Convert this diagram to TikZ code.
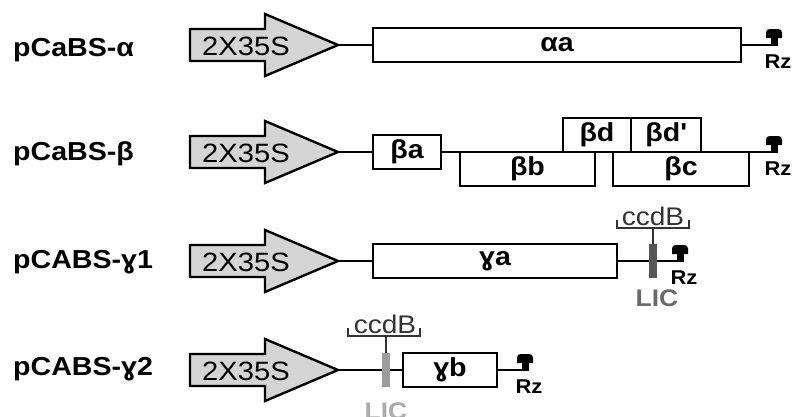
\documentclass[tikz,border=0pt]{standalone}
\usepackage{fontspec}
\setmainfont{Liberation Sans}[FakeStretch=1.1]
\definecolor{promfill}{HTML}{D4D4D4}
\definecolor{licdark}{HTML}{555555}
\definecolor{licdarktxt}{HTML}{6A6A6A}
\definecolor{liclight}{HTML}{9C9C9C}
\definecolor{liclighttxt}{HTML}{ABABAB}
\definecolor{ccdbcol}{HTML}{333333}
\tikzset{
  prom/.style={draw=black, fill=promfill, line width=2.4pt, line join=miter},
  promtext/.style={font=\fontsize{26.5}{26.5}\selectfont, inner sep=0pt},
  gene/.style={draw=black, fill=white, line width=2.4pt, minimum height=34pt, inner sep=0pt,
    font=\bfseries\fontsize{26}{26}\selectfont},
  wire/.style={line width=2pt},
  lab/.style={font=\bfseries\fontsize{26}{26}\selectfont, inner sep=0pt},
  rztext/.style={font=\bfseries\fontsize{20}{20}\selectfont, inner sep=0pt, anchor=base},
  licbar/.style={minimum width=8pt, minimum height=34pt, inner sep=0pt},
  lictext/.style={font=\bfseries\fontsize{24}{24}\selectfont, inner sep=0pt, anchor=base},
  ccdbtext/.style={font=\fontsize{25.5}{25.5}\selectfont, inner sep=0pt, anchor=base, text=ccdbcol},
  brk/.style={draw=ccdbcol, line width=1.5pt},
}
% terminator symbol: #1 = x of stem, #2 = y of line, #3 = name
\newcommand\rzsym[3]{%
  \coordinate (#3) at (#1,#2);
  \fill ({#1-3.5},{#2+1}) rectangle ({#1+3.5},{#2-8});
  \fill ({#1-8},{#2-7}) [rounded corners=3.5pt] -- ({#1-8},{#2-16}) -- ({#1+8},{#2-16}) [sharp corners] -- ({#1+8},{#2-7}) -- cycle;
  \node[rztext] (#3t) at ({#1+4},{#2+23}) {Rz};
}
\begin{document}
\begin{tikzpicture}[x=1pt,y=-1pt]
\useasboundingbox (0,0) rectangle (795,416);

% promoters
\foreach \c/\n in {45/1,152/2,261/3,370/4}{
  \begin{scope}[shift={(0,\c)}]
    \draw[prom] (190,-16) -- (265,-16) -- (265,-31) -- (338,0) -- (265,31) -- (265,16) -- (190,16) -- cycle;
    \node[promtext] (pt\n) at (246,1) {2X35S};
    \coordinate (tip\n) at (338,0);
  \end{scope}
}

% left labels
\node[lab, anchor=base west] (l1) at (13,56) {pCaBS-α};
\node[lab, anchor=base west] (l2) at (13,160) {pCaBS-β};
\node[lab, anchor=base west] (l3) at (13,268) {pCABS-ɣ1};
\node[lab, anchor=base west] (l4) at (13,375) {pCABS-ɣ2};

% ---- row 1
\node[gene, minimum width=368pt] (a1) at (557,45) {αa};
\draw[wire] (tip1) -- (a1.west);
\rzsym{774}{45}{rz1}
\draw[wire] (a1.east) -- (rz1);

% ---- row 2
\node[gene, minimum width=68pt] (ba) at (407,152) {βa};
\draw[wire] (tip2) -- (ba.west);
\rzsym{774}{152}{rz2}
\draw[wire] (ba.east) -- (rz2);
\node[gene, minimum width=135pt] (bb) at (527.5,169) {βb};
\node[gene, minimum width=136pt] (bc) at (681,169) {βc};
\node[gene, minimum width=68pt] (bd) at (597,135) {βd};
\node[gene, minimum width=70pt] (bdp) at (666,135) {βd\textquotesingle};

% ---- row 3
\node[gene, minimum width=244pt] (ga) at (495,261) {ɣa};
\draw[wire] (tip3) -- (ga.west);
\rzsym{680}{261}{rz3}
\node[licbar, fill=licdark] (lic3) at (653,261) {};
\draw[wire] (ga.east) -- (lic3.west);
\draw[wire] (lic3.east) -- (rz3);
\coordinate (b3) at (653,228);
\draw[brk] (617,220) -- (617,228) -- (689,228) -- (689,220);
\draw[brk] (b3) -- (lic3.north);
\node[ccdbtext] (cc3) at (653,225) {ccdB};
\node[lictext, text=licdarktxt] (lt3) at (657,306) {LIC};

% ---- row 4
\node[licbar, fill=liclight] (lic4) at (386,370) {};
\node[gene, minimum width=94pt] (gb) at (450,370) {ɣb};
\rzsym{525}{370}{rz4}
\draw[wire] (tip4) -- (lic4.west);
\draw[wire] (lic4.east) -- (gb.west);
\draw[wire] (gb.east) -- (rz4);
\coordinate (b4) at (386,336);
\draw[brk] (348,328) -- (348,336) -- (420,336) -- (420,328);
\draw[brk] (b4) -- (lic4.north);
\node[ccdbtext] (cc4) at (385,333) {ccdB};
\node[lictext, text=liclighttxt] (lt4) at (386,419) {LIC};
\end{tikzpicture}
\end{document}
